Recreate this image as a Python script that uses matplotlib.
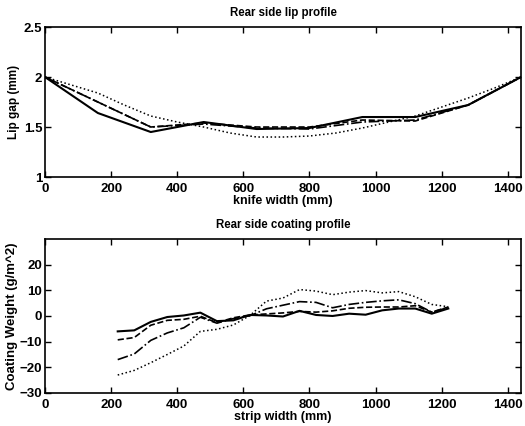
import matplotlib
matplotlib.use('Agg')
import matplotlib.pyplot as plt

# lip profile (top)
knife_x = [0, 160, 320, 480, 640, 800, 960, 1120, 1280, 1440]
lip_solid = [2.0, 1.64, 1.45, 1.55, 1.48, 1.49, 1.60, 1.60, 1.72, 2.0]
lip_dashed = [2.0, 1.75, 1.50, 1.54, 1.50, 1.50, 1.57, 1.56, 1.72, 2.0]
lip_dashdot = [2.0, 1.75, 1.50, 1.53, 1.49, 1.48, 1.55, 1.57, 1.72, 2.0]
knife_x2 = [0, 80, 160, 240, 320, 400, 480, 560, 640, 720, 800, 880, 960,
            1040, 1120, 1200, 1280, 1360, 1440]
lip_dotted = [2.0, 1.92, 1.84, 1.72, 1.61, 1.55, 1.50, 1.44, 1.40, 1.40, 1.41,
              1.44, 1.49, 1.55, 1.61, 1.70, 1.79, 1.89, 2.0]

# coating profile (bottom)
strip_x = [220, 270, 320, 370, 420, 470, 520, 570, 620, 670, 720, 770, 820,
           870, 920, 970, 1020, 1070, 1120, 1170, 1220]
coat_solid = [-6, -5.6, -2.3, -0.4, 0.2, 1.3, -2.0, -1.7, 0.4, 0.2, -0.2, 2.0,
              0.4, 0.0, 0.9, 0.5, 2.2, 2.9, 2.9, 0.9, 2.9]
coat_dashed = [-9.3, -8.4, -3.6, -1.7, -1.3, -0.1, -2.6, -0.7, 0.4, 0.8, 1.2,
               1.8, 1.5, 2.0, 3.0, 3.4, 3.5, 3.5, 4.0, 1.5, 3.5]
coat_dashdot = [-17, -14.8, -9.5, -6.6, -4.6, -0.5, -2.8, -1.0, 0.1, 2.8, 4.2,
                5.6, 5.3, 3.2, 4.5, 5.3, 5.9, 6.3, 4.8, 1.5, 3.3]
coat_dotted = [-23, -21.2, -18.2, -15, -11.7, -6.0, -5.2, -3.5, 0.2, 5.8, 7.0,
               10.3, 9.7, 8.3, 9.3, 9.9, 9.0, 9.5, 7.5, 4.5, 3.6]

plt.rcParams['font.family'] = ['Liberation Sans', 'DejaVu Sans']
plt.rcParams['font.weight'] = 'bold'
plt.rcParams['axes.labelweight'] = 'bold'
plt.rcParams['font.size'] = 9

fig = plt.figure(figsize=(5.25, 4.26), dpi=100)
ax1 = fig.add_axes([0.0857, 0.5845, 0.9067, 0.352])
ax2 = fig.add_axes([0.0857, 0.0775, 0.9067, 0.3615])

ax1.plot(knife_x, lip_solid, 'k-', lw=1.5)
ax1.plot(knife_x, lip_dashed, 'k--', lw=1.2)
ax1.plot(knife_x, lip_dashdot, 'k-.', lw=1.2)
ax1.plot(knife_x2, lip_dotted, 'k:', lw=1.1)
ax1.set_xlim(0, 1440)
ax1.set_ylim(1, 2.5)
ax1.set_xticks(range(0, 1401, 200))
ax1.set_yticks([1, 1.5, 2, 2.5])
ax1.set_yticklabels(['1', '1.5', '2', '2.5'])
ax1.set_title('Rear side lip profile', fontsize=8.3, fontweight='bold', pad=8)
ax1.set_xlabel('knife width (mm)', fontsize=9, labelpad=0)
ax1.set_ylabel('Lip gap (mm)', fontsize=8.5, labelpad=3)

ax2.plot(strip_x, coat_solid, 'k-', lw=1.5)
ax2.plot(strip_x, coat_dashed, 'k--', lw=1.2)
ax2.plot(strip_x, coat_dashdot, 'k-.', lw=1.2)
ax2.plot(strip_x, coat_dotted, 'k:', lw=1.1)
ax2.set_xlim(0, 1440)
ax2.set_ylim(-30, 30)
ax2.set_xticks(range(0, 1401, 200))
ax2.set_yticks([-30, -20, -10, 0, 10, 20])
ax2.set_yticklabels(['\u221230', '\u221220', '\u221210', '0', '10', '20'])
ax2.set_title('Rear side coating profile', fontsize=8.3, fontweight='bold', pad=8)
ax2.set_xlabel('strip width (mm)', fontsize=9, labelpad=0)
ax2.set_ylabel('Coating Weight (g/m^2)', fontsize=9.5, labelpad=1)

for ax in (ax1, ax2):
    ax.tick_params(direction='in', top=True, right=True, length=4, width=1,
                   labelsize=9.5, pad=2)
    ax.tick_params(axis='x', pad=4)
    for s in ax.spines.values():
        s.set_linewidth(1.2)

fig.savefig('out.png', dpi=100)
